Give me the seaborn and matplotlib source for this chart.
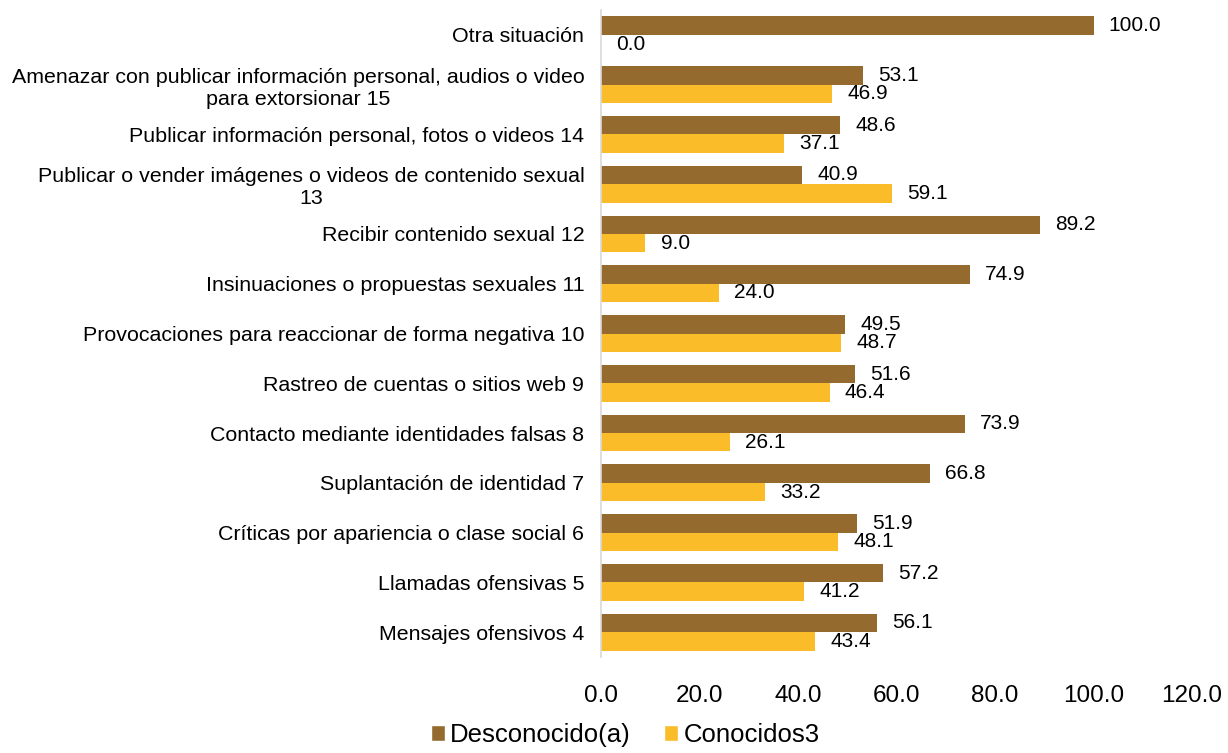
import pandas as pd
import seaborn as sns
import matplotlib.pyplot as plt
from matplotlib.patches import Patch

categorias = [
    'Otra situación',
    'Amenazar con publicar información personal, audios o video\npara extorsionar 15',
    'Publicar información personal, fotos o videos 14',
    'Publicar o vender imágenes o videos de contenido sexual\n13',
    'Recibir contenido sexual 12',
    'Insinuaciones o propuestas sexuales 11',
    'Provocaciones para reaccionar de forma negativa 10',
    'Rastreo de cuentas o sitios web 9',
    'Contacto mediante identidades falsas 8',
    'Suplantación de identidad 7',
    'Críticas por apariencia o clase social 6',
    'Llamadas ofensivas 5',
    'Mensajes ofensivos 4',
]
desconocido = [100.0, 53.1, 48.6, 40.9, 89.2, 74.9, 49.5, 51.6, 73.9, 66.8, 51.9, 57.2, 56.1]
conocidos = [0.0, 46.9, 37.1, 59.1, 9.0, 24.0, 48.7, 46.4, 26.1, 33.2, 48.1, 41.2, 43.4]
series = ['Desconocido(a)', 'Conocidos3']
colores = ['#956A2E', '#FBBC2A']

df = pd.DataFrame({
    'categoria': categorias * 2,
    'serie': [series[0]] * len(categorias) + [series[1]] * len(categorias),
    'valor': desconocido + conocidos,
})

sns.set_style('white')
plt.rcParams['font.family'] = ['Liberation Sans', 'DejaVu Sans']
plt.rcParams['text.color'] = 'black'
plt.rcParams['xtick.color'] = 'black'
plt.rcParams['ytick.color'] = 'black'

fig = plt.figure(figsize=(12.28, 7.53), dpi=100)
ax = fig.add_axes([0.4894, 0.1275, 0.4813, 0.8592])

sns.barplot(data=df, y='categoria', x='valor', hue='serie', orient='h',
            palette=colores, width=0.74, saturation=1, linewidth=0,
            ax=ax, legend=False)

for cont in ax.containers:
    ax.bar_label(cont, fmt='%.1f', padding=11, fontsize=15, color='black')

ax.set_xlim(0, 120)
ax.set_xticks(range(0, 121, 20))
ax.set_xticklabels([f'{v:.1f}' for v in range(0, 121, 20)])
ax.set_xlabel('')
ax.set_ylabel('')
ax.tick_params(axis='x', length=0, labelsize=17.5, pad=20)
ax.tick_params(axis='y', length=0, labelsize=15.4, pad=12)
for lbl in ax.get_yticklabels():
    lbl.set_multialignment('center')

sns.despine(ax=ax, top=True, right=True, bottom=True, left=False)
ax.spines['left'].set_color('#D9D9D9')
ax.spines['left'].set_linewidth(1.2)

handles = [Patch(facecolor=c, label=s) for c, s in zip(colores, series)]
fig.legend(handles=handles, loc='lower center', bbox_to_anchor=(0.509, -0.009),
           ncol=2, frameon=False, fontsize=18.5, borderpad=0, handlelength=0.55,
           handleheight=0.55, handletextpad=0.2, columnspacing=1.3)

fig.savefig('out.png', dpi=100)
